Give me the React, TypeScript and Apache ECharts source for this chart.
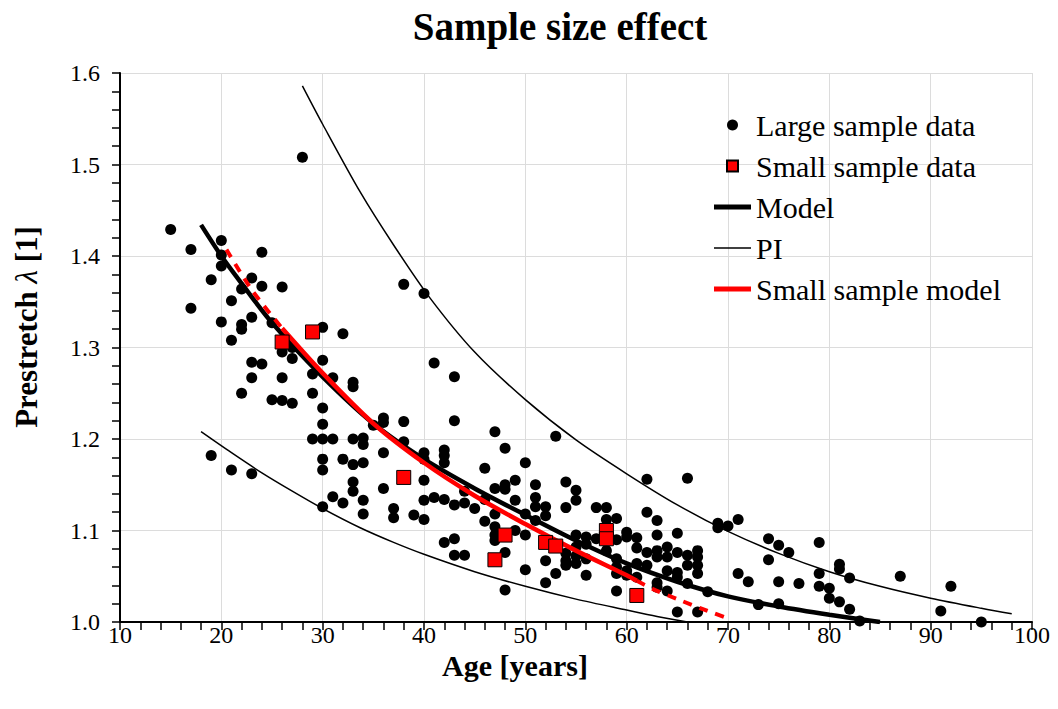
import React, { useEffect, useRef } from "react";
import * as echarts from "echarts";

const FONT = "'Liberation Serif', 'Times New Roman', serif";

const titleText = "Sample size effect";
const xAxisTitle = "Age [years]";

// Large sample data: [age, prestretch]
const largeSampleData: [number, number][] = [
  [15, 1.429],
  [17, 1.407], [17, 1.343],
  [19, 1.374], [19, 1.182],
  [20, 1.417], [20, 1.401], [20, 1.389], [20, 1.328],
  [21, 1.351], [21, 1.308], [21, 1.166],
  [22, 1.364], [22, 1.325], [22, 1.32], [22, 1.25],
  [23, 1.376], [23, 1.333], [23, 1.284], [23, 1.267], [23, 1.162],
  [24, 1.404], [24, 1.367], [24, 1.282],
  [25, 1.327], [25, 1.243],
  [26, 1.366], [26, 1.295], [26, 1.267], [26, 1.242],
  [27, 1.3], [27, 1.288], [27, 1.239],
  [28, 1.508],
  [29, 1.271], [29, 1.25], [29, 1.2],
  [30, 1.322], [30, 1.286], [30, 1.234], [30, 1.216], [30, 1.2], [30, 1.178], [30, 1.166], [30, 1.126],
  [31, 1.267], [31, 1.2], [31, 1.137],
  [32, 1.315], [32, 1.178], [32, 1.13],
  [33, 1.262], [33, 1.257], [33, 1.2], [33, 1.172], [33, 1.153], [33, 1.143],
  [34, 1.201], [34, 1.194], [34, 1.174], [34, 1.133], [34, 1.118],
  [35, 1.215],
  [36, 1.223], [36, 1.218], [36, 1.185], [36, 1.146],
  [37, 1.124], [37, 1.114],
  [38, 1.369], [38, 1.219], [38, 1.197],
  [39, 1.117],
  [40, 1.359], [40, 1.185], [40, 1.178], [40, 1.155], [40, 1.133], [40, 1.112],
  [41, 1.283], [41, 1.136],
  [42, 1.188], [42, 1.182], [42, 1.174], [42, 1.134], [42, 1.087],
  [43, 1.268], [43, 1.22], [43, 1.128], [43, 1.091], [43, 1.073],
  [44, 1.143], [44, 1.13], [44, 1.073],
  [45, 1.124],
  [46, 1.168], [46, 1.134], [46, 1.11],
  [47, 1.208], [47, 1.146], [47, 1.118], [47, 1.104], [47, 1.095], [47, 1.089],
  [48, 1.19], [48, 1.15], [48, 1.145], [48, 1.076], [48, 1.035],
  [49, 1.155], [49, 1.133], [49, 1.1],
  [50, 1.174], [50, 1.118], [50, 1.095], [50, 1.057],
  [51, 1.15], [51, 1.136], [51, 1.126], [51, 1.111],
  [52, 1.126], [52, 1.116], [52, 1.067], [52, 1.043],
  [53, 1.203], [53, 1.053],
  [54, 1.153], [54, 1.125], [54, 1.075], [54, 1.067], [54, 1.062],
  [55, 1.144], [55, 1.133], [55, 1.095], [55, 1.082], [55, 1.072], [55, 1.064],
  [56, 1.093], [56, 1.085], [56, 1.069], [56, 1.051],
  [57, 1.125], [57, 1.091],
  [58, 1.125], [58, 1.112], [58, 1.078],
  [59, 1.113], [59, 1.09], [59, 1.069], [59, 1.06], [59, 1.053], [59, 1.034],
  [60, 1.098], [60, 1.093], [60, 1.056], [60, 1.051],
  [61, 1.092], [61, 1.081], [61, 1.064], [61, 1.049],
  [62, 1.156], [62, 1.12], [62, 1.076], [62, 1.062],
  [63, 1.111], [63, 1.095], [63, 1.078], [63, 1.071], [63, 1.043], [63, 1.038],
  [64, 1.082], [64, 1.071], [64, 1.056], [64, 1.034],
  [65, 1.097], [65, 1.076], [65, 1.054], [65, 1.049], [65, 1.011],
  [66, 1.157], [66, 1.073], [66, 1.062], [66, 1.042],
  [67, 1.078], [67, 1.071], [67, 1.062], [67, 1.053], [67, 1.011],
  [68, 1.033],
  [69, 1.108], [69, 1.103],
  [70, 1.105],
  [71, 1.112], [71, 1.053],
  [72, 1.044],
  [73, 1.019],
  [74, 1.091], [74, 1.068],
  [75, 1.084], [75, 1.044], [75, 1.02],
  [76, 1.076],
  [77, 1.042],
  [79, 1.087], [79, 1.053], [79, 1.039],
  [80, 1.037], [80, 1.026],
  [81, 1.063], [81, 1.058], [81, 1.022],
  [82, 1.048], [82, 1.014],
  [83, 1.001],
  [87, 1.05],
  [91, 1.012],
  [92, 1.039],
  [95, 1.0],
];

// Small sample data
const smallSampleData: [number, number][] = [
  [26, 1.306], [29, 1.317], [38, 1.158], [47, 1.068], [48, 1.095],
  [52, 1.087], [53, 1.083], [58, 1.1], [58, 1.091], [61, 1.029],
];

// Model curve
const modelCurve: [number, number][] = [
  [18, 1.434], [20, 1.4], [22, 1.37], [25, 1.327], [30, 1.268], [35, 1.217],
  [40, 1.178], [45, 1.146], [50, 1.117], [55, 1.089], [60, 1.064], [65, 1.044],
  [70, 1.028], [75, 1.017], [80, 1.008], [85, 1.0],
];

// Prediction interval curves
const piUpper: [number, number][] = [
  [28, 1.586], [30, 1.544], [33.7, 1.47], [37, 1.412], [40.6, 1.354], [45, 1.295],
  [50, 1.243], [55, 1.199], [60, 1.162], [65, 1.128], [70, 1.099], [75, 1.075],
  [80, 1.055], [85, 1.039], [90, 1.026], [95, 1.015], [98, 1.009],
];
const piLower: [number, number][] = [
  [18, 1.208], [21, 1.185], [24, 1.163], [27, 1.143], [30, 1.124], [33.7, 1.103],
  [37, 1.087], [40, 1.074], [45, 1.055], [50, 1.039], [55, 1.025], [60, 1.013],
  [63, 1.006], [66, 1.0],
];

// Small sample model (solid within data range, dashed outside)
const smallModelLeft: [number, number][] = [
  [20.5, 1.407], [23, 1.363], [26, 1.321],
];
const smallModelMid: [number, number][] = [
  [26, 1.321], [30, 1.272], [35, 1.217], [40, 1.174], [45, 1.138], [50, 1.107],
  [55, 1.078], [60, 1.051], [61, 1.045],
];
const smallModelRight: [number, number][] = [
  [61, 1.045], [62.6, 1.036], [65, 1.025], [68, 1.012], [70, 1.004],
];

const legendNames = ["Large sample data", "Small sample data", "Model", "PI", "Small sample model"];

export default function App() {
  const ref = useRef<HTMLDivElement>(null);
  useEffect(() => {
    if (!ref.current) return;
    const chart = echarts.init(ref.current, null, { renderer: "svg" });
    const axisLabelStyle = { fontFamily: FONT, fontSize: 24, color: "#000" };
    const tickStyle = { color: "#000", width: 1.5 };
    const lineSeries = (name: string, data: [number, number][], color: string, width: number, dashed = false) => ({
      name,
      type: "line",
      data,
      smooth: 0.3,
      symbol: "none",
      showSymbol: false,
      lineStyle: { color, width, type: dashed ? [9, 8] : "solid" },
      itemStyle: { color },
      z: 3,
    });
    chart.setOption({
      animation: false,
      backgroundColor: "#ffffff",
      grid: { left: 120, top: 73, right: 26, bottom: 87, containLabel: false },
      xAxis: {
        type: "value",
        min: 10,
        max: 100,
        interval: 10,
        axisLine: { show: true, lineStyle: { color: "#000", width: 2 } },
        axisTick: { show: true, length: 8, lineStyle: tickStyle },
        minorTick: { show: true, splitNumber: 5, length: 8, lineStyle: tickStyle },
        axisLabel: { ...axisLabelStyle, margin: 1 },
        splitLine: { show: true, lineStyle: { color: "#dcdcdc", width: 1 } },
      },
      yAxis: {
        type: "value",
        min: 1.0,
        max: 1.6,
        interval: 0.1,
        axisLine: { show: true, lineStyle: { color: "#000", width: 2 } },
        axisTick: { show: true, length: 8, lineStyle: tickStyle },
        minorTick: { show: true, splitNumber: 5, length: 8, lineStyle: tickStyle },
        axisLabel: { ...axisLabelStyle, margin: 20, formatter: (v: number) => v.toFixed(1) },
        splitLine: { show: true, lineStyle: { color: "#dcdcdc", width: 1 } },
      },
      legend: {
        orient: "vertical",
        left: 709,
        top: 105,
        itemWidth: 37,
        itemHeight: 11,
        itemGap: 11,
        textStyle: { fontFamily: FONT, fontSize: 30, color: "#000" },
        data: [
          { name: legendNames[0], icon: "circle" },
          { name: legendNames[1], icon: "path://M0,0H10V10H0Z" },
          { name: legendNames[2], icon: "path://M0,0H37V5H0Z" },
          { name: legendNames[3], icon: "path://M0,0H37V1.5H0Z" },
          { name: legendNames[4], icon: "path://M0,0H37V5H0Z" },
        ],
      },
      graphic: [
        {
          type: "text",
          x: 560,
          y: 26,
          style: {
            text: titleText,
            fontFamily: FONT,
            fontWeight: "bold",
            fontSize: 39,
            fill: "#000",
            textAlign: "center",
            textVerticalAlign: "middle",
          },
        },
        {
          type: "text",
          x: 515,
          y: 665,
          style: {
            text: xAxisTitle,
            fontFamily: FONT,
            fontWeight: "bold",
            fontSize: 30,
            fill: "#000",
            textAlign: "center",
            textVerticalAlign: "middle",
          },
        },
        {
          type: "text",
          x: 26,
          y: 327,
          rotation: Math.PI / 2,
          style: {
            text: "{b|Prestretch }{i|λ}{b| [1]}",
            textAlign: "center",
            textVerticalAlign: "middle",
            rich: {
              b: { fontFamily: FONT, fontWeight: "bold", fontSize: 31, fill: "#000" },
              i: { fontFamily: FONT, fontStyle: "italic", fontSize: 31, fill: "#000" },
            },
          },
        },
      ],
      series: [
        {
          name: legendNames[0],
          type: "scatter",
          data: largeSampleData,
          symbol: "circle",
          symbolSize: 11,
          itemStyle: { color: "#000", opacity: 1 },
          z: 2,
        },
        lineSeries(legendNames[3], piUpper, "#000", 1.5),
        lineSeries(legendNames[3], piLower, "#000", 1.5),
        lineSeries(legendNames[2], modelCurve, "#000", 4.5),
        lineSeries(legendNames[4], smallModelMid, "#ff0000", 4.5),
        lineSeries(legendNames[4], smallModelLeft, "#ff0000", 4, true),
        lineSeries(legendNames[4], smallModelRight, "#ff0000", 4, true),
        {
          name: legendNames[1],
          type: "scatter",
          data: smallSampleData,
          symbol: "rect",
          symbolSize: 14,
          itemStyle: { color: "#ff0000", borderColor: "#000", borderWidth: 1, opacity: 1 },
          z: 4,
        },
      ],
    });
    return () => chart.dispose();
  }, []);
  return (
    <div
      ref={ref}
      style={{ position: "fixed", left: 0, top: 0, width: 1058, height: 709, background: "#fff" }}
    />
  );
}
